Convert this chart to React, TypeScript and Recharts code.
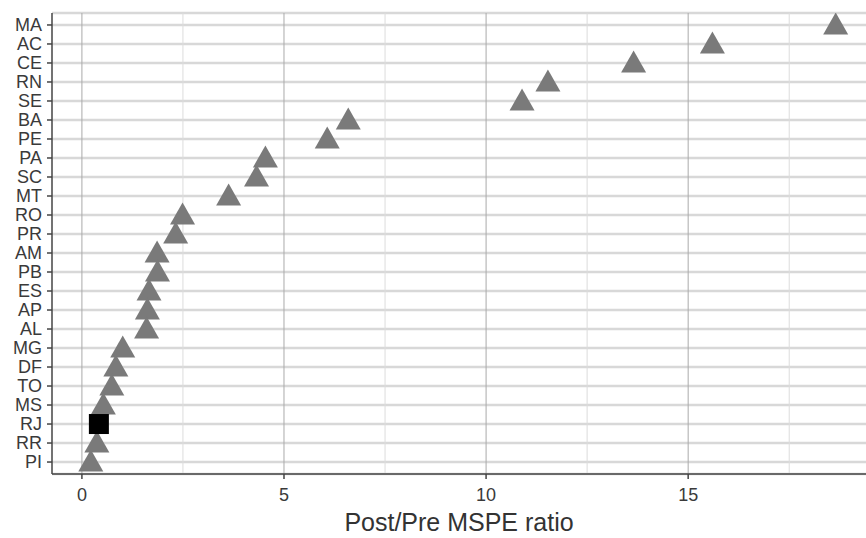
import React from 'react';
import {
  ScatterChart,
  Scatter,
  XAxis,
  YAxis,
  CartesianGrid,
  ReferenceLine
} from 'recharts';

// states top -> bottom, as drawn
const states = [
  'MA', 'AC', 'CE', 'RN', 'SE', 'BA', 'PE', 'PA', 'SC', 'MT', 'RO', 'PR',
  'AM', 'PB', 'ES', 'AP', 'AL', 'MG', 'DF', 'TO', 'MS', 'RJ', 'RR', 'PI'
];
const ratios = [
  18.65, 15.6, 13.65, 11.53, 10.89, 6.59, 6.07, 4.54, 4.32, 3.63, 2.49, 2.32,
  1.86, 1.87, 1.66, 1.62, 1.6, 1.01, 0.84, 0.74, 0.53, 0.42, 0.37, 0.22
];
const treated = 'RJ';
const xTicks = [0, 5, 10, 15];
const xMinor = [2.5, 7.5, 12.5, 17.5];

const FONT = '"Liberation Sans", Arial, sans-serif';
const n = states.length;

const rows = states.map((s, i) => ({ state: s, ratio: ratios[i], idx: n - 1 - i }));
const donors = rows.filter(r => r.state !== treated);
const treatedRow = rows.filter(r => r.state === treated);
const yTicks = rows.map(r => r.idx).reverse();

const Triangle = (props: any) => {
  const { cx, cy } = props;
  const pts = `${cx},${cy - 12.5} ${cx + 12.5},${cy + 9.5} ${cx - 12.5},${cy + 9.5}`;
  return <polygon points={pts} fill="#7a7a7a" />;
};

const Square = (props: any) => {
  const { cx, cy } = props;
  return <rect x={cx - 10} y={cy - 10} width={20} height={20} fill="#000" />;
};

// custom x tick so the font size sticks
const XTick = (props: any) => {
  const { x, y, payload } = props;
  return (
    <text x={x} y={y + 20} textAnchor="middle" fontSize={18} fill="#3a3a3a" fontFamily={FONT}>
      {payload.value}
    </text>
  );
};

export default function App() {
  return (
    <div style={{ position: 'absolute', left: 0, top: 0, background: '#fff' }}>
      <ScatterChart
        width={866}
        height={538}
        margin={{ top: 13, right: 0, left: 0, bottom: 0 }}
        style={{ fontFamily: FONT }}
      >
        <CartesianGrid vertical={false} stroke="#d8d8d8" strokeWidth={2.5} />
        {xMinor.map(v => (
          <ReferenceLine key={`mn-${v}`} x={v} stroke="#dcdcdc" strokeWidth={1} />
        ))}
        {xTicks.map(v => (
          <ReferenceLine key={`mj-${v}`} x={v} stroke="#aaaaaa" strokeWidth={1} />
        ))}
        <XAxis
          type="number"
          dataKey="ratio"
          domain={[-0.74, 19.4]}
          allowDataOverflow
          ticks={xTicks}
          interval={0}
          height={64}
          stroke="#444"
          strokeWidth={1.5}
          tickSize={5}
          tickMargin={2}
          tick={<XTick />}
          label={{
            value: 'Post/Pre MSPE ratio',
            position: 'insideBottom',
            offset: 7,
            fontSize: 25,
            fill: '#333',
            fontFamily: FONT
          }}
        />
        <YAxis
          type="number"
          dataKey="idx"
          domain={[-0.63, 23.63]}
          allowDataOverflow
          ticks={yTicks}
          interval={0}
          width={52}
          stroke="#444"
          strokeWidth={1.5}
          tickSize={5}
          tickMargin={5}
          tickFormatter={(v: number) => states[n - 1 - v]}
          tick={{ fontSize: 18, fill: '#3a3a3a', fontFamily: FONT }}
        />
        <Scatter data={donors} shape={<Triangle />} isAnimationActive={false} />
        <Scatter data={treatedRow} shape={<Square />} isAnimationActive={false} />
      </ScatterChart>
    </div>
  );
}
